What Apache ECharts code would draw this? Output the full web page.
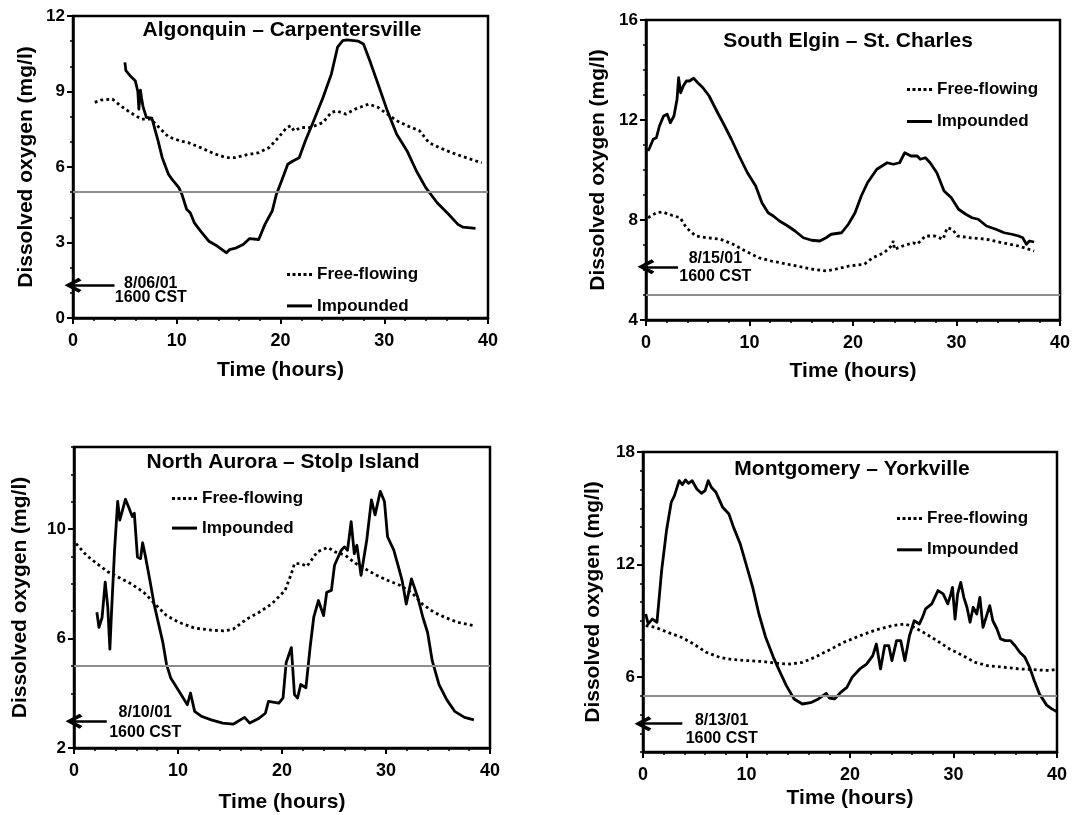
<!DOCTYPE html>
<html>
<head>
<meta charset="utf-8">
<title>Dissolved oxygen – free-flowing vs impounded reaches</title>
<script src="https://cdn.jsdelivr.net/npm/echarts@6/dist/echarts.min.js"></script>
<style>
  html, body { margin: 0; padding: 0; background: #fff; }
  #chart { width: 1090px; height: 815px; }
</style>
</head>
<body>
<div id="chart"></div>
<script>
// Time axis ticks (hours after 1600 CST start)
const hourTicks = [0, 10, 20, 30, 40];

// Algonquin – Carpentersville, started 8/06/01
const algonquinTicks = [0, 3, 6, 9, 12];
const algonquinFree = [[2.1,8.57],[2.7,8.66],[3.8,8.70],[4.6,8.43],[5.5,8.17],[6.6,7.90],[7.5,7.90],[8.3,7.57],[9.2,7.20],[10.3,7.04],[11.1,6.97],[12.3,6.77],[13.6,6.53],[14.8,6.37],[15.6,6.37],[16.7,6.48],[17.9,6.57],[18.9,6.77],[19.8,7.17],[20.6,7.57],[21.0,7.64],[21.3,7.44],[22.0,7.57],[22.9,7.57],[24.1,7.77],[24.9,8.17],[25.4,8.23],[26.3,8.10],[27.2,8.30],[28.5,8.50],[29.4,8.37],[30.3,8.10],[31.2,7.84],[32.2,7.64],[33.4,7.44],[34.3,6.97],[35.3,6.77],[36.5,6.57],[37.4,6.44],[38.6,6.27],[39.4,6.17]];
const algonquinImpounded = [[5.0,10.16],[5.1,9.83],[5.5,9.63],[6.0,9.43],[6.25,9.0],[6.35,8.3],[6.5,9.05],[6.6,8.75],[6.75,8.4],[7.07,7.97],[7.6,7.94],[8.2,7.04],[8.6,6.37],[9.2,5.71],[9.55,5.51],[10.2,5.18],[10.5,4.91],[10.95,4.32],[11.3,4.18],[11.7,3.78],[12.3,3.45],[13.1,3.05],[13.9,2.86],[14.8,2.59],[15.1,2.72],[15.75,2.79],[16.4,2.92],[17.0,3.15],[17.9,3.12],[18.5,3.72],[19.2,4.25],[19.6,4.91],[20.1,5.44],[20.7,6.11],[21.2,6.24],[21.8,6.37],[22.4,7.04],[23.2,7.84],[24.1,8.76],[24.9,9.69],[25.5,10.76],[26.0,11.02],[26.4,11.05],[27.5,11.0],[28.0,10.89],[28.6,10.23],[29.4,9.3],[30.3,8.23],[31.2,7.3],[32.2,6.64],[33.1,5.84],[34.0,5.18],[35.1,4.58],[36.2,4.12],[37.1,3.72],[37.6,3.61],[38.8,3.56]];

// South Elgin – St. Charles, started 8/15/01
const elginTicks = [4, 8, 12, 16];
const elginFree = [[0.2,8.09],[1.0,8.29],[1.6,8.32],[2.5,8.19],[3.3,8.09],[3.9,7.69],[4.8,7.36],[5.9,7.29],[7.2,7.23],[8.4,7.03],[9.6,6.76],[10.9,6.49],[12.1,6.36],[13.7,6.23],[14.9,6.13],[16.1,6.03],[17.4,5.96],[18.3,6.03],[19.6,6.16],[21.1,6.23],[21.9,6.49],[23.0,6.69],[23.7,6.96],[23.9,7.16],[24.0,6.83],[24.8,6.96],[25.8,7.09],[26.2,7.03],[27.0,7.36],[27.9,7.36],[28.7,7.23],[29.1,7.69],[29.6,7.63],[30.1,7.36],[31.3,7.29],[32.9,7.23],[34.4,7.09],[36.0,6.96],[37.5,6.76]];
const elginImpounded = [[0.2,10.76],[0.35,10.89],[0.7,11.23],[1.0,11.29],[1.3,11.76],[1.7,12.16],[2.05,12.23],[2.35,11.89],[2.7,12.16],[3.0,12.83],[3.15,13.69],[3.35,13.09],[3.6,13.36],[3.9,13.56],[4.2,13.56],[4.6,13.67],[5.0,13.49],[5.5,13.29],[6.1,12.96],[6.5,12.63],[7.0,12.23],[7.6,11.76],[8.25,11.23],[9.0,10.56],[9.8,9.89],[10.6,9.36],[11.2,8.69],[11.8,8.29],[12.3,8.16],[12.9,7.96],[13.7,7.76],[14.4,7.56],[15.2,7.29],[16.0,7.19],[16.8,7.16],[17.4,7.29],[17.9,7.43],[18.9,7.49],[19.55,7.83],[20.2,8.29],[20.8,8.96],[21.4,9.49],[22.3,10.03],[23.3,10.29],[23.9,10.23],[24.5,10.29],[25.0,10.69],[25.6,10.56],[26.2,10.56],[26.5,10.43],[27.0,10.49],[27.45,10.29],[28.1,9.89],[28.8,9.16],[29.5,8.89],[30.2,8.43],[30.9,8.23],[31.5,8.09],[32.1,8.03],[32.9,7.76],[33.8,7.63],[34.6,7.49],[35.35,7.43],[36.0,7.36],[36.4,7.29],[36.75,7.03],[37.05,7.16],[37.5,7.12]];

// North Aurora – Stolp Island, started 8/10/01
const auroraTicks = [2, 6, 10];
const auroraFree = [[0.2,9.47],[1.2,9.04],[2.4,8.68],[3.3,8.43],[4.2,8.25],[5.5,8.0],[6.7,7.69],[7.8,7.26],[8.9,6.84],[10.1,6.59],[11.6,6.38],[13.2,6.31],[14.4,6.28],[15.3,6.34],[16.6,6.71],[17.8,6.96],[19.0,7.26],[20.3,7.76],[20.9,8.37],[21.2,8.74],[21.8,8.74],[22.4,8.64],[23.4,9.17],[24.4,9.33],[25.1,9.17],[26.1,9.04],[27.1,8.74],[28.0,8.55],[29.1,8.31],[30.2,8.12],[31.4,7.94],[32.6,7.63],[33.5,7.26],[34.6,6.96],[35.7,6.77],[36.9,6.59],[38.5,6.47]];
const auroraImpounded = [[2.2,6.96],[2.4,6.41],[2.7,6.77],[3.0,8.06],[3.25,7.14],[3.45,5.61],[3.6,6.9],[3.9,9.23],[4.2,11.01],[4.4,10.33],[4.55,10.33],[4.95,11.09],[5.3,10.76],[5.6,10.46],[5.8,10.58],[6.1,8.98],[6.4,8.92],[6.6,9.5],[6.85,9.04],[7.3,8.12],[7.7,7.26],[8.1,6.59],[8.55,5.85],[8.9,5.05],[9.3,4.56],[10.1,4.07],[10.9,3.58],[11.2,4.01],[11.6,3.34],[12.3,3.15],[13.2,3.03],[14.3,2.91],[15.3,2.87],[16.4,3.12],[16.9,2.91],[17.8,3.09],[18.4,3.27],[18.7,3.7],[19.7,3.64],[20.1,3.83],[20.4,5.12],[20.9,5.67],[21.2,3.95],[21.5,3.83],[21.8,4.32],[22.3,4.2],[22.7,5.67],[23.05,6.77],[23.5,7.39],[24.0,6.84],[24.3,7.69],[24.75,7.76],[25.05,8.68],[25.7,9.23],[26.0,9.35],[26.3,9.23],[26.65,10.27],[26.95,9.1],[27.2,9.41],[27.6,8.31],[28.15,9.6],[28.6,11.07],[28.95,10.52],[29.45,11.38],[29.85,11.01],[30.15,9.72],[30.75,9.23],[31.25,8.55],[31.55,8.12],[31.95,7.26],[32.45,8.18],[33.05,7.51],[33.55,6.77],[34.0,6.22],[34.45,5.18],[35.1,4.32],[35.85,3.76],[36.6,3.34],[37.55,3.12],[38.45,3.03]];

// Montgomery – Yorkville, started 8/13/01
const montgomeryTicks = [6, 12, 18];
const montgomeryFree = [[0.26,8.74],[1.2,8.65],[2.4,8.38],[3.7,8.12],[4.9,7.76],[6.1,7.32],[7.4,7.05],[8.6,6.93],[10.2,6.87],[11.7,6.82],[12.9,6.73],[14.2,6.69],[15.4,6.78],[16.6,7.05],[17.9,7.41],[19.4,7.85],[21.0,8.21],[22.5,8.51],[24.1,8.74],[25.3,8.83],[26.2,8.65],[27.1,8.38],[28.4,7.94],[29.6,7.5],[30.9,7.14],[32.1,6.78],[33.3,6.6],[34.9,6.52],[36.4,6.43],[38.4,6.37],[39.3,6.35],[40.0,6.42]];
const montgomeryImpounded = [[0.26,9.36],[0.5,8.83],[0.9,9.09],[1.35,8.92],[1.5,9.0],[1.8,11.67],[2.27,13.81],[2.73,15.32],[3.04,15.67],[3.5,16.47],[3.8,16.26],[4.1,16.51],[4.4,16.33],[4.75,16.47],[5.2,16.03],[5.65,15.8],[6.0,15.94],[6.3,16.47],[6.6,16.12],[7.05,15.85],[7.7,15.05],[8.3,14.69],[8.75,13.98],[9.4,13.09],[10.0,11.94],[10.6,10.78],[11.2,9.36],[11.85,8.12],[12.6,7.05],[13.25,6.25],[13.85,5.54],[14.6,4.83],[15.4,4.56],[16.3,4.65],[16.95,4.83],[17.7,5.13],[18.0,4.88],[18.5,4.83],[19.1,5.18],[19.7,5.45],[20.2,5.98],[20.95,6.43],[21.6,6.69],[22.2,7.14],[22.55,7.76],[22.95,6.43],[23.35,7.67],[23.75,7.67],[24.05,6.87],[24.5,7.94],[24.9,7.94],[25.3,6.87],[25.75,8.21],[26.2,9.0],[26.7,8.83],[27.0,9.18],[27.3,9.63],[27.9,9.9],[28.5,10.61],[29.0,10.43],[29.45,9.9],[29.75,10.43],[29.9,10.78],[30.15,9.09],[30.4,10.43],[30.7,11.05],[31.0,10.25],[31.3,9.72],[31.6,8.92],[31.9,9.72],[32.25,9.36],[32.55,10.25],[32.85,8.65],[33.15,9.18],[33.5,9.81],[33.8,9.0],[34.2,8.56],[34.55,8.03],[35.0,7.94],[35.5,7.94],[35.95,7.67],[36.4,7.32],[36.9,7.05],[37.35,6.52],[37.8,5.81],[38.3,5.1],[39.0,4.5],[39.5,4.3],[40.0,4.15]];

const FONT = '"Liberation Sans", Arial, Helvetica, sans-serif';
const DO_STANDARD = 5;                 // mg/l reference level drawn in grey
const ARROW_HEAD = 'path://M5,0 L10,8 L8.2,9.6 L5,4.2 L1.8,9.6 L0,8 Z';
// legend swatches: a row of dots and a solid bar, 25 x 3
const DOTTED_SWATCH = 'path://M0,0h3v3h-3z M5.5,0h3v3h-3z M11,0h3v3h-3z M16.5,0h3v3h-3z M22,0h3v3h-3z';
const SOLID_SWATCH = 'path://M0,0H25V3H0Z';

// Layout of the four panels
const panels = [
  { title: 'Algonquin – Carpentersville', date: '8/06/01', free: algonquinFree, imp: algonquinImpounded,
    yTicks: algonquinTicks, yMin: 0, yMax: 12,
    grid: { left: 73, top: 16, width: 415, height: 302 },
    titleAt: [282, 20], legendAt: [287, 266, 14.4], yNameGap: 36, xNameGap: 42,
    arrow: { x: 4.0, y: 1.3 }, note: { x: 7.5, y: 1.1, lh: 14 } },
  { title: 'South Elgin – St. Charles', date: '8/15/01', free: elginFree, imp: elginImpounded,
    yTicks: elginTicks, yMin: 4, yMax: 16,
    grid: { left: 646, top: 20, width: 414, height: 300 },
    titleAt: [848, 31], legendAt: [907, 81, 15], yNameGap: 37, xNameGap: 41,
    arrow: { x: 3.1, y: 6.13 }, note: { x: 6.7, y: 6.1, lh: 18 } },
  { title: 'North Aurora – Stolp Island', date: '8/10/01', free: auroraFree, imp: auroraImpounded,
    yTicks: auroraTicks, yMin: 2, yMax: 13,
    grid: { left: 74, top: 447, width: 416, height: 301 },
    titleAt: [283, 452], legendAt: [172, 490, 12.6], yNameGap: 43, xNameGap: 44,
    arrow: { x: 3.15, y: 2.98 }, note: { x: 6.85, y: 2.93, lh: 20 } },
  { title: 'Montgomery – Yorkville', date: '8/13/01', free: montgomeryFree, imp: montgomeryImpounded,
    yTicks: montgomeryTicks, yMin: 2, yMax: 18,
    grid: { left: 643, top: 452, width: 414, height: 300 },
    titleAt: [852, 459], legendAt: [897, 510, 14.3], yNameGap: 39, xNameGap: 36,
    arrow: { x: 3.8, y: 3.51 }, note: { x: 7.6, y: 3.2, lh: 18 } }
];

const black = '#000';
const boldText = (size) => ({ color: black, fontSize: size, fontWeight: 'bold', fontFamily: FONT });

const option = {
  backgroundColor: '#fff',
  animation: false,
  title: panels.map(p => ({
    text: p.title, left: p.titleAt[0], top: p.titleAt[1], textAlign: 'center', padding: 0,
    textStyle: boldText(21)
  })),
  legend: panels.map(p => ({
    data: [
      { name: 'Free-flowing', icon: DOTTED_SWATCH },
      { name: 'Impounded', icon: SOLID_SWATCH }
    ],
    orient: 'vertical', selectedMode: false, symbolKeepAspect: true,
    left: p.legendAt[0], top: p.legendAt[1], itemGap: p.legendAt[2], padding: 0,
    itemWidth: 25, itemHeight: 14, itemStyle: { color: black, borderWidth: 0 },
    textStyle: boldText(17)
  })),
  grid: panels.map(p => Object.assign({ show: true, borderColor: black, borderWidth: 2.5, containLabel: false }, p.grid)),
  xAxis: panels.map((p, i) => ({
    gridIndex: i, type: 'value',
    min: hourTicks[0], max: hourTicks[hourTicks.length - 1], interval: hourTicks[1] - hourTicks[0],
    axisLine: { show: true, onZero: false, lineStyle: { color: black, width: 2.5 } },
    axisTick: { show: true, length: 6, lineStyle: { color: black, width: 2 } },
    minorTick: { show: true, splitNumber: 5, length: 3, lineStyle: { color: black, width: 1.5 } },
    splitLine: { show: false },
    axisLabel: Object.assign({ margin: 14 }, boldText(18)),
    name: 'Time (hours)', nameLocation: 'middle', nameGap: p.xNameGap,
    nameTextStyle: boldText(21)
  })),
  yAxis: panels.flatMap((p, i) => [
    {
      gridIndex: i, type: 'value', position: 'left', min: p.yMin, max: p.yMax,
      axisLine: { show: true, onZero: false, lineStyle: { color: black, width: 2.5 } },
      axisTick: { show: true, customValues: p.yTicks, length: 6, lineStyle: { color: black, width: 2 } },
      axisLabel: Object.assign({ customValues: p.yTicks, margin: 8 }, boldText(17)),
      splitLine: { show: false },
      name: 'Dissolved oxygen (mg/l)', nameLocation: 'middle', nameGap: p.yNameGap,
      nameTextStyle: boldText(21)
    },
    {
      // unlabelled 1 mg/l minor ticks
      gridIndex: i, type: 'value', position: 'left', min: p.yMin, max: p.yMax, interval: 1,
      axisLine: { show: false },
      axisTick: { show: true, length: 3, lineStyle: { color: black, width: 1.5 } },
      axisLabel: { show: false },
      splitLine: { show: false }
    }
  ]),
  series: panels.flatMap((p, i) => [
    {
      name: 'Free-flowing', type: 'line', xAxisIndex: i, yAxisIndex: 2 * i,
      data: p.free, symbol: 'none', smooth: false, z: 3,
      lineStyle: { color: black, width: 2.8, type: [2.8, 3.2], cap: 'butt' },
      itemStyle: { color: black },
      markLine: {
        silent: true, animation: false, symbol: ['none', 'none'], label: { show: false },
        data: [
          { yAxis: DO_STANDARD, lineStyle: { color: '#8d8d8d', width: 2.2, type: 'solid' } },
          [
            { coord: [p.arrow.x, p.arrow.y], symbol: 'none', lineStyle: { color: black, width: 2.5, type: 'solid' } },
            { coord: [0, p.arrow.y], symbol: ARROW_HEAD, symbolSize: [15, 17] }
          ]
        ]
      },
      markPoint: {
        silent: true, animation: false, symbol: 'rect', symbolSize: 1,
        itemStyle: { color: 'rgba(0,0,0,0)' },
        label: Object.assign({
          show: true, position: 'inside', align: 'center', verticalAlign: 'middle',
          lineHeight: p.note.lh, formatter: p.date + '\n1600 CST'
        }, boldText(16)),
        data: [{ coord: [p.note.x, p.note.y] }]
      }
    },
    {
      name: 'Impounded', type: 'line', xAxisIndex: i, yAxisIndex: 2 * i,
      data: p.imp, symbol: 'none', smooth: false, z: 4,
      lineStyle: { color: black, width: 2.8, type: 'solid', join: 'round' },
      itemStyle: { color: black }
    }
  ])
};

const chart = echarts.init(document.getElementById('chart'), null, { renderer: 'canvas' });
chart.setOption(option);
</script>
</body>
</html>
